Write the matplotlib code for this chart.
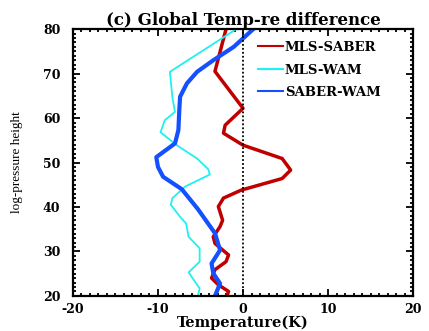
import matplotlib.pyplot as plt
from matplotlib.ticker import MultipleLocator

# MLS-SABER (red)
h_red = [80, 70.5, 62.2, 58.4, 56.6, 53.9, 50.9, 48.3, 46.4, 43.8, 42, 40.1,
         37, 35.6, 33.3, 31.8, 29.2, 27.7, 25.9, 24, 22.5, 21, 20]
t_red = [-2.0, -3.3, 0.0, -2.1, -2.3, 0.0, 4.6, 5.6, 4.6, -0.2, -2.3, -2.9,
         -2.4, -2.7, -3.5, -3.3, -1.7, -2.0, -3.3, -3.7, -2.9, -1.7, -1.9]

# MLS-WAM (cyan)
h_cyan = [80, 70.4, 64.5, 61.4, 59.5, 56.8, 53.9, 50.9, 48.5, 47.3, 44.6, 42,
          40.5, 37.8, 36.3, 33.3, 30.7, 27.7, 25.3, 21.7, 20]
t_cyan = [-0.8, -8.6, -8.3, -8.0, -9.2, -9.7, -7.8, -5.4, -4.1, -3.9, -6.8, -8.3,
          -8.5, -7.4, -6.7, -6.4, -5.1, -5.1, -6.4, -5.1, -5.3]

# SABER-WAM (blue)
h_blue = [80, 76, 73, 70.4, 67.8, 64.8, 61.5, 57.3, 54.3, 51.2, 49, 46.8, 44,
          39.5, 34.1, 30.3, 27.3, 25.1, 22.8, 20]
t_blue = [1.2, -1.1, -3.5, -5.4, -6.6, -7.4, -7.5, -7.6, -8.0, -10.2, -10.0, -9.4, -7.2,
          -5.3, -3.3, -2.7, -3.7, -3.5, -2.7, -3.3]

xticks = [-20, -10, 0, 10, 20]
yticks = [20, 30, 40, 50, 60, 70, 80]

bold = dict(family='DejaVu Serif', weight='bold')

fig = plt.figure(figsize=(4.29, 3.31), dpi=100)
ax = fig.add_axes([0.170, 0.106, 0.793, 0.806])

ax.plot(t_red, h_red, color='#c00000', lw=2.5, label='MLS-SABER')
ax.plot(t_cyan, h_cyan, color='#20f0f0', lw=1.3, label='MLS-WAM')
ax.plot(t_blue, h_blue, color='#1450ff', lw=3.0, label='SABER-WAM')
ax.axvline(0, color='black', ls=(0, (1, 1.2)), lw=1.3)

ax.set_xlim(-20, 20)
ax.set_ylim(20, 80)
ax.set_xticks(xticks)
ax.set_yticks(yticks)
ax.set_xticklabels([str(v) for v in xticks], fontsize=9, **bold)
ax.set_yticklabels([str(v) for v in yticks], fontsize=9, **bold)
ax.xaxis.set_minor_locator(MultipleLocator(1))
ax.yaxis.set_minor_locator(MultipleLocator(1))
ax.tick_params(which='both', direction='in', top=True, right=True, width=1.3)
ax.tick_params(which='major', length=5)
ax.tick_params(axis='x', which='major', pad=5)
ax.tick_params(axis='y', which='major', pad=9)
ax.tick_params(which='minor', length=2.5)
for s in ax.spines.values():
    s.set_linewidth(1.6)

ax.set_title('(c) Global Temp-re difference', fontsize=12, pad=3, **bold)
ax.set_xlabel('Temperature(K)', fontsize=10.5, labelpad=0, **bold)
ax.set_ylabel('log-pressure height', fontsize=9.5, family='Liberation Serif', labelpad=14)

leg = ax.legend(loc='upper left', bbox_to_anchor=(0.51, 1.0), frameon=False,
                handlelength=1.9, handletextpad=0.1, labelspacing=0.72,
                prop=dict(family='DejaVu Serif', weight='bold', size=9.5))
for line in leg.get_lines():
    line.set_linewidth(1.5)

fig.savefig('out.png', dpi=100)
